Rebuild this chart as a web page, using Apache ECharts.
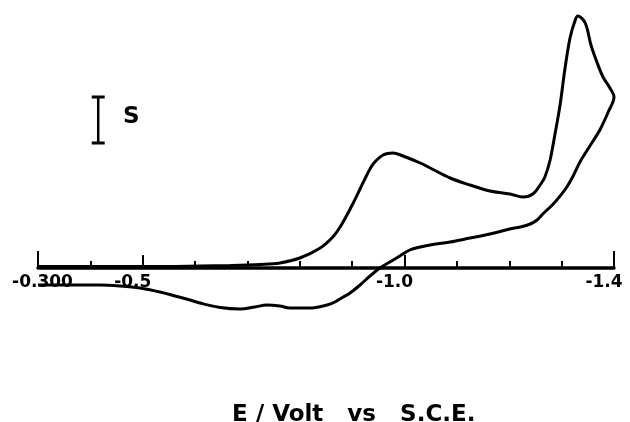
<!DOCTYPE html>
<html>
<head>
<meta charset="utf-8">
<script src="https://cdn.jsdelivr.net/npm/echarts@6/dist/echarts.min.js"></script>
<style>html,body{margin:0;padding:0;background:#fff;}#c{width:630px;height:422px;}</style>
</head>
<body>
<div id="c"></div>
<script>
// Potential (V vs SCE) and current (arbitrary units), forward (cathodic) scan
const fwdE = [-0.300,-0.418,-0.514,-0.609,-0.667,-0.724,-0.762,-0.800,-0.839,-0.863,-0.877,-0.890,-0.902,-0.915,-0.928,-0.940,-0.959,-0.978,-0.997,-1.030,-1.049,-1.087,-1.125,-1.163,-1.201,-1.226,-1.245,-1.259,-1.268,-1.278,-1.287,-1.297,-1.306,-1.316,-1.326,-1.331,-1.345,-1.356,-1.368,-1.379,-1.391,-1.400];
const fwdI = [0.15,0.15,0.15,0.2,0.25,0.35,0.5,1.0,2.0,3.1,4.1,5.3,6.5,7.9,9.3,10.4,11.3,11.5,11.2,10.5,10.0,9.0,8.3,7.7,7.4,7.1,7.4,8.3,9.1,10.8,13.3,16.3,19.8,23.0,24.8,25.2,24.5,22.3,20.5,19.1,18.1,17.1];
// Reverse (anodic) scan
const revE = [-1.389,-1.373,-1.360,-1.349,-1.335,-1.322,-1.310,-1.297,-1.284,-1.264,-1.253,-1.240,-1.221,-1.201,-1.163,-1.125,-1.087,-1.049,-1.030,-1.010,-0.991,-0.972,-0.953,-0.934,-0.915,-0.896,-0.883,-0.867,-0.852,-0.819,-0.781,-0.762,-0.737,-0.714,-0.686,-0.648,-0.609,-0.590,-0.562,-0.533,-0.495,-0.457,-0.418,-0.371,-0.300];
const revI = [15.6,13.8,12.7,11.8,10.6,9.2,8.1,7.2,6.4,5.4,4.8,4.4,4.1,3.9,3.4,3.0,2.6,2.3,2.1,1.8,1.2,0.6,0,-0.8,-1.7,-2.5,-2.9,-3.4,-3.7,-4.0,-4.0,-3.8,-3.7,-3.9,-4.1,-3.95,-3.5,-3.2,-2.8,-2.4,-2.0,-1.8,-1.7,-1.7,-1.7];
// Tick labels
const majorTicks = [-0.3, -0.5, -1.0, -1.4];
const endTicks = [-0.3, -1.4];
const tickLabels = {'-0.3': '-0.300', '-0.5': '-0.5', '-1': '-1.0', '-1.4': '-1.4'};
// Current scale bar "S"
const scaleBarE = [-0.415, -0.415];
const scaleBarI = [17.1, 12.5];
const scaleLabel = 'S';
const axisTitle = 'E / Volt   vs   S.C.E.';

const cvData = fwdE.map((e, i) => [e, fwdI[i]]).concat(revE.map((e, i) => [e, revI[i]]));
const barData = scaleBarE.map((e, i) => [e, scaleBarI[i]]);

const chart = echarts.init(document.getElementById('c'), null, {renderer: 'canvas'});
const baseX = {type: 'value', min: -1.4, max: -0.3, inverse: true, position: 'bottom', splitLine: {show: false}};
chart.setOption({
  animation: false,
  backgroundColor: '#fff',
  title: {text: axisTitle, left: 227, top: 399,
    textStyle: {fontFamily: 'DejaVu Sans', fontWeight: 'bold', fontSize: 23, color: '#000'}},
  graphic: [{type: 'text', left: 123, top: 106,
    style: {text: scaleLabel, font: 'bold 23px "DejaVu Sans"', fill: '#000'}}],
  grid: {left: 38, right: 16, top: 8, bottom: 154},
  xAxis: [
    Object.assign({}, baseX, {interval: 0.1,
      axisLine: {show: true, lineStyle: {color: '#000', width: 3.5}},
      axisTick: {show: true, inside: true, length: 7, lineStyle: {color: '#000', width: 2}},
      axisLabel: {show: false}}),
    Object.assign({}, baseX, {
      axisLine: {show: false},
      axisTick: {show: true, inside: true, length: 13, customValues: majorTicks, lineStyle: {color: '#000', width: 2}},
      axisLabel: {show: true, customValues: majorTicks, margin: 6,
        formatter: function (v) {
          const k = String(Math.round(v * 10) / 10);
          const t = tickLabels[k] || '';
          return t.length > 4 ? '{w|' + t + '}' : '{m|' + t + '}';
        },
        rich: {
          w: {fontFamily: 'DejaVu Sans', fontWeight: 'bold', fontSize: 17, color: '#000', padding: [0, 0, 0, 9]},
          m: {fontFamily: 'DejaVu Sans', fontWeight: 'bold', fontSize: 17, color: '#000', padding: [0, 20, 0, 0]}
        }}}),
    Object.assign({}, baseX, {
      axisLine: {show: false},
      axisTick: {show: true, inside: true, length: 17, customValues: endTicks, lineStyle: {color: '#000', width: 2}},
      axisLabel: {show: false}})
  ],
  yAxis: {type: 'value', min: 0, max: 26, show: false, splitLine: {show: false}},
  series: [
    {name: 'CV', type: 'line', xAxisIndex: 0, data: cvData, showSymbol: false, symbol: 'none',
      smooth: 0.35, clip: false, lineStyle: {color: '#000', width: 3}},
    {name: 'scale', type: 'line', xAxisIndex: 0, data: barData, symbol: 'rect', symbolSize: [13, 3],
      showSymbol: true, clip: false, itemStyle: {color: '#000'}, lineStyle: {color: '#000', width: 2.5}}
  ]
});
</script>
</body>
</html>
